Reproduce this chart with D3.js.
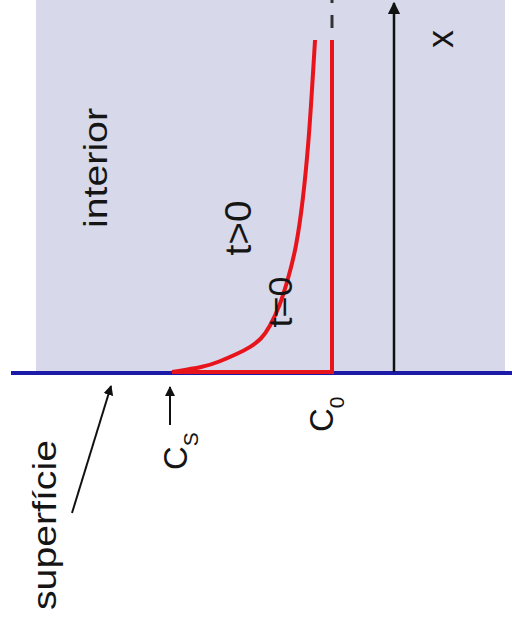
<!DOCTYPE html>
<html><head><meta charset="utf-8">
<script src="https://cdn.jsdelivr.net/npm/d3@7"></script>
<style>html,body{margin:0;padding:0;background:#fff;}svg{display:block;}</style>
</head><body>
<svg id="c" width="512" height="629"></svg>
<script>
// Profile t>0 : depth (0..100) vs concentration (0 = C_S, 100 = C_0)
const curveDepth = [0, 1.5, 3, 5.5, 7.5, 10, 13.5, 20, 28, 37, 52, 70, 85, 100];
const curveConc  = [0, 20, 29, 41, 49, 56, 61, 67.5, 72.5, 77.5, 82, 85.5, 87.5, 89.4];
// Profile t=0
const initDepth = [0, 0, 100];
const initConc  = [0, 100, 100];
const labels = ["interior", "t>0", "t=0", "x", "superfície"];

const svg = d3.select("#c");
const conc = d3.scaleLinear().domain([0, 100]).range([172, 332]);
const depth = d3.scaleLinear().domain([0, 100]).range([372, 40]);

// background
svg.append("rect").attr("x", 36).attr("y", 0).attr("width", 469).attr("height", 371).attr("fill", "#d7d8e9");

const defs = svg.append("defs");
defs.append("marker").attr("id", "ah").attr("viewBox", "0 0 10 10").attr("refX", 9).attr("refY", 5)
  .attr("markerWidth", 5).attr("markerHeight", 5).attr("markerUnits", "strokeWidth").attr("orient", "auto")
  .append("path").attr("d", "M0,0 L10,5 L0,10 z").attr("fill", "#111");

// surface line
svg.append("line").attr("x1", 11).attr("x2", 512).attr("y1", depth(0) + 1).attr("y2", depth(0) + 1)
  .attr("stroke", "#1b1ba8").attr("stroke-width", 4);

// x axis arrow
svg.append("line").attr("x1", 394).attr("x2", 394).attr("y1", depth(0)).attr("y2", 3)
  .attr("stroke", "#111").attr("stroke-width", 2.5).attr("marker-end", "url(#ah)");

// dashed continuation of C0
svg.append("line").attr("x1", conc(100)).attr("x2", conc(100)).attr("y1", 28).attr("y2", -10)
  .attr("stroke", "#333").attr("stroke-width", 3).attr("stroke-dasharray", "13,12");

// t=0 profile
const line0 = d3.line().x((d, i) => conc(initConc[i])).y((d, i) => depth(initDepth[i]));
svg.append("path").attr("d", line0(initDepth)).attr("fill", "none").attr("stroke", "#e8141c").attr("stroke-width", 4);

// t>0 profile
const line1 = d3.line().curve(d3.curveBasis).x((d, i) => conc(curveConc[i])).y((d, i) => depth(curveDepth[i]));
svg.append("path").attr("d", line1(curveDepth)).attr("fill", "none").attr("stroke", "#e8141c").attr("stroke-width", 4);

// rotated labels
function rlabel(txt, x, y, size, len) {
  const t = svg.append("text").attr("transform", `translate(${x},${y}) rotate(-90)`)
    .attr("text-anchor", "middle").attr("font-family", "Liberation Sans, Arial, sans-serif")
    .attr("font-size", size).attr("fill", "#151515").text(txt);
  if (len) t.attr("textLength", len).attr("lengthAdjust", "spacingAndGlyphs");
  return t;
}
rlabel(labels[0], 107, 168, 34, 120);
rlabel(labels[1], 251, 228, 36, 55);
rlabel(labels[2], 292, 302, 34, 51);
rlabel(labels[3], 453, 39, 36, null);
rlabel(labels[4], 56, 525, 34, 170);

// C_S and C_0
function clabel(main, sub, x, y) {
  const t = svg.append("text").attr("transform", `translate(${x},${y}) rotate(-90)`)
    .attr("font-family", "Liberation Sans, Arial, sans-serif").attr("font-size", 33).attr("fill", "#151515");
  t.append("tspan").text(main);
  t.append("tspan").attr("font-size", 21).attr("dy", 11).text(sub);
}
clabel("C", "S", 187, 470);
clabel("C", "0", 333, 432);

// annotation arrows
svg.append("line").attr("x1", 170).attr("x2", 170).attr("y1", 425).attr("y2", 387)
  .attr("stroke", "#111").attr("stroke-width", 2).attr("marker-end", "url(#ah)");
svg.append("line").attr("x1", 72).attr("x2", 111).attr("y1", 513).attr("y2", 386)
  .attr("stroke", "#111").attr("stroke-width", 2).attr("marker-end", "url(#ah)");
</script>
</body></html>
